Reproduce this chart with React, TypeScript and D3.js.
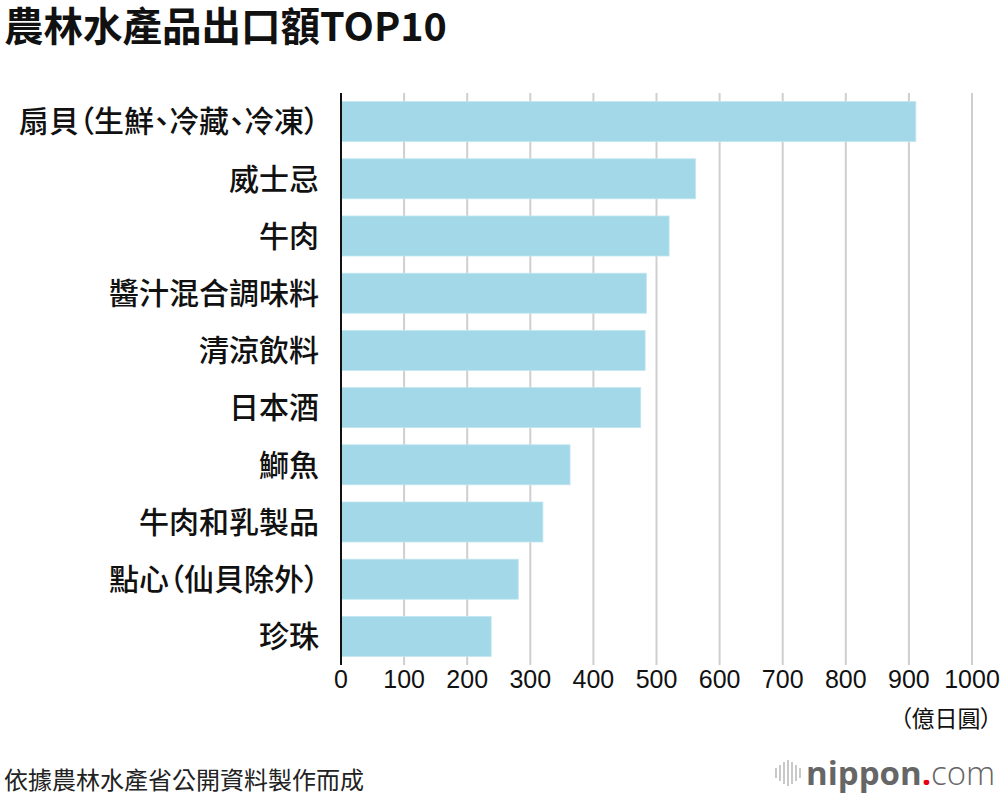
import React from "react";
import * as d3 from "d3";

const categories = [
  "扇貝（生鮮、冷藏、冷凍）",
  "威士忌",
  "牛肉",
  "醬汁混合調味料",
  "清涼飲料",
  "日本酒",
  "鰤魚",
  "牛肉和乳製品",
  "點心（仙貝除外）",
  "珍珠",
];
const values = [911, 562, 520, 484, 482, 475, 363, 320, 281, 238];
const ticks = [0, 100, 200, 300, 400, 500, 600, 700, 800, 900, 1000];
const title = "農林水產品出口額TOP10";
const unit = "（億日圓）";
const source = "依據農林水產省公開資料製作而成";

const CJK = "'Noto Sans CJK TC', 'Noto Sans CJK JP', sans-serif";
const NUM = "'Liberation Sans', Arial, sans-serif";

export default function App() {
  const W = 1000;
  const H = 796;
  const x = d3.scaleLinear().domain([0, 1000]).range([341, 972]);
  const y = d3
    .scaleBand<string>()
    .domain(categories)
    .range([93, 665])
    .paddingInner(0.3)
    .paddingOuter(0.15);
  const waveHeights = [10, 16, 22, 26, 22, 16, 10];

  return (
    <svg
      width={W}
      height={H}
      style={{ position: "absolute", left: 0, top: 0, background: "#fff" }}
    >
      <text x={4} y={41} fontFamily={CJK} fontWeight={700} fontSize={39.5} fill="#111">
        {title}
      </text>
      {ticks.slice(1).map((t) => (
        <line
          key={t}
          x1={x(t)}
          x2={x(t)}
          y1={93}
          y2={665}
          stroke="#cfcfcf"
          strokeWidth={2}
        />
      ))}
      {categories.map((c, i) => (
        <rect
          key={c}
          x={x(0)}
          y={y(c)}
          width={x(values[i]) - x(0)}
          height={y.bandwidth()}
          fill="#a2d8e8"
          stroke="#c4e6f0"
          strokeWidth={0.8}
        />
      ))}
      <line x1={x(0)} x2={x(0)} y1={93} y2={665} stroke="#111" strokeWidth={2} />
      {categories.map((c) => (
        <text
          key={c}
          x={319}
          y={(y(c) as number) + y.bandwidth() / 2}
          dy="0.36em"
          textAnchor="end"
          fontFamily={CJK}
          fontWeight={500}
          fontSize={30}
          fill="#111"
          style={{ fontFeatureSettings: "'palt' 1" }}
        >
          {c}
        </text>
      ))}
      {ticks.map((t) => (
        <text
          key={t}
          x={x(t)}
          y={688}
          textAnchor="middle"
          fontFamily={NUM}
          fontSize={25}
          fill="#111"
        >
          {t}
        </text>
      ))}
      <text
        x={992}
        y={727}
        textAnchor="end"
        fontFamily={CJK}
        fontSize={23}
        fill="#111"
        style={{ fontFeatureSettings: "'palt' 1" }}
      >
        {unit}
      </text>
      <text x={4} y={789} fontFamily={CJK} fontSize={24} fill="#222">
        {source}
      </text>
      <g>
        {waveHeights.map((h, i) => (
          <line
            key={i}
            x1={776 + i * 4}
            x2={776 + i * 4}
            y1={773 - h / 2}
            y2={773 + h / 2}
            stroke="#bbb"
            strokeWidth={1.6}
          />
        ))}
        <text x={806} y={785} fontFamily="'Open Sans', sans-serif" fontSize={33} fill="#666">
          <tspan fontWeight={700}>nippon</tspan>
          <tspan fill="#e60012" fontWeight={700}>.</tspan>
          <tspan fontWeight={300}>com</tspan>
        </text>
      </g>
    </svg>
  );
}
